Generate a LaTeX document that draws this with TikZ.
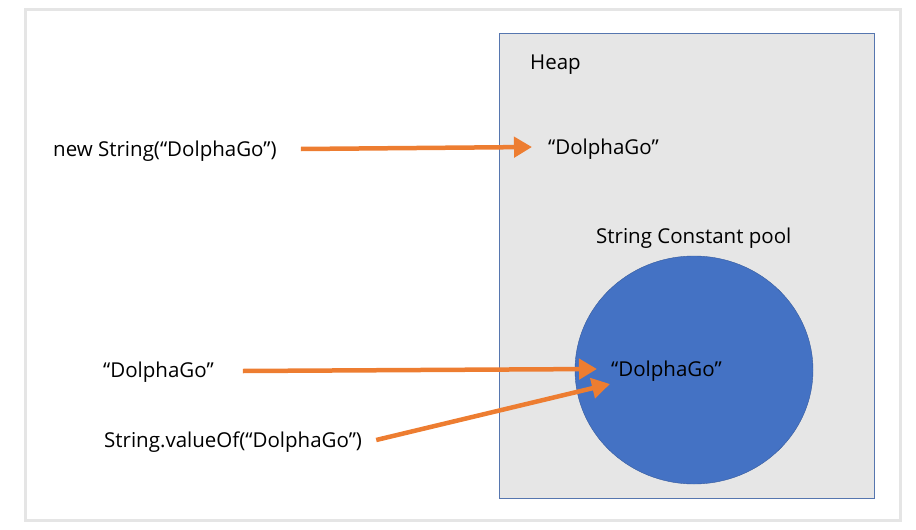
\documentclass[tikz,border=0pt]{standalone}
\usepackage{fontspec}
\setmainfont{Open Sans}
\usetikzlibrary{arrows.meta}
\definecolor{arroworange}{HTML}{ED7D31}
\definecolor{poolblue}{HTML}{4472C4}
\definecolor{heapgray}{HTML}{E6E6E6}
\tikzset{
    lbl/.style={inner sep=0pt, anchor=west, font=\fontsize{20.5}{24}\selectfont},
    ptr/.style={arroworange, line width=4.5pt, -{Triangle[length=18pt,width=20pt]}}
}

\begin{document}
\begin{tikzpicture}[x=1pt,y=-1pt]
        \useasboundingbox (0,0) rectangle (916,530);
        \draw[black!10, line width=3pt] (25,9) rectangle (900,520);
        \filldraw[fill=heapgray, draw=poolblue!70!gray, thin] (499,33) rectangle (874,498);
        \filldraw[fill=poolblue, draw=poolblue!80!black, thin] (694,370) ellipse (119 and 114);
        \node[lbl] (heap) at (530,65) {Heap};
        \node[lbl] (heapstr) at (548,149) {“DolphaGo”};
        \node[lbl] (pool) at (596,238) {String Constant pool};
        \node[lbl] (poolstr) at (611,371) {“DolphaGo”};
        \node[lbl] (newstr) at (53,151) {new String(“DolphaGo”)};
        \node[lbl] (literal) at (103,372) {“DolphaGo”};
        \node[lbl] (valueof) at (104,442) {String.valueOf(“DolphaGo”)};
        \draw[ptr] ([xshift=24pt,yshift=2pt]newstr.east) -- ([xshift=-16pt,yshift=2pt]heapstr.west);
        \draw[ptr] ([xshift=29pt,yshift=1pt]literal.east) -- ([xshift=-14pt,yshift=2pt]poolstr.west);
        \draw[ptr] ([xshift=14pt,yshift=2pt]valueof.east) -- ([xshift=-1pt,yshift=-13pt]poolstr.west);
    \end{tikzpicture}
\end{document}
